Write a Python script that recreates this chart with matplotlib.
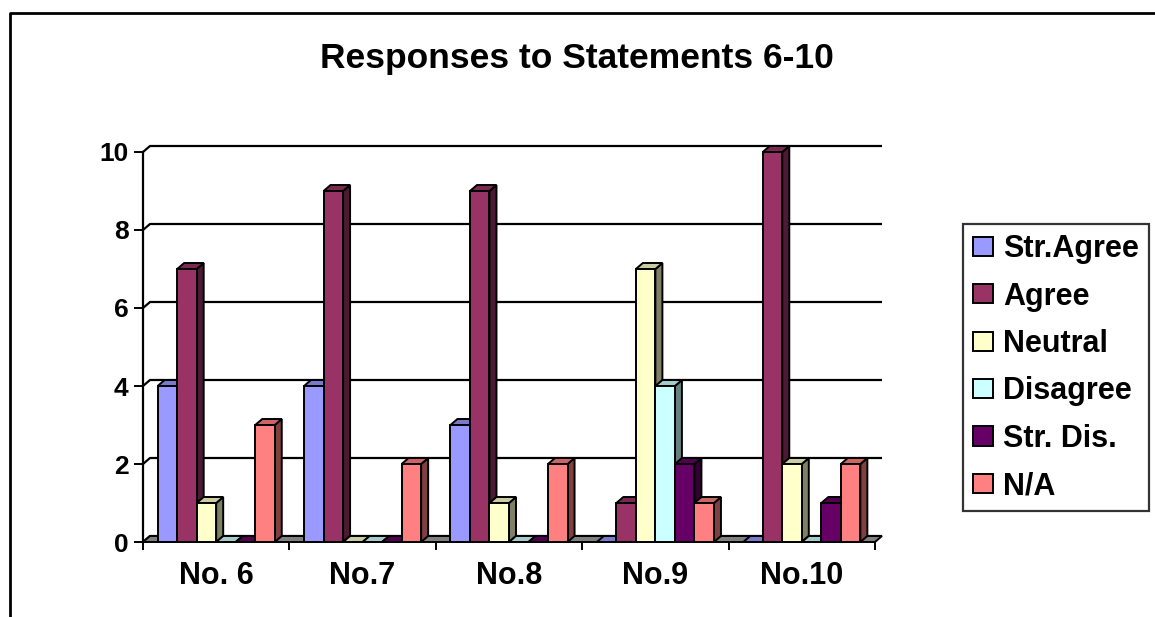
"""
Responses to statements 6-10, drawn as an Excel-style 3D clustered column chart.
"""
import matplotlib
matplotlib.use("Agg")
import matplotlib.pyplot as plt
from matplotlib.patches import Polygon, Patch
from matplotlib.lines import Line2D
import numpy as np

plt.rcParams["font.family"] = ["Liberation Sans", "DejaVu Sans"]
plt.rcParams["font.weight"] = "bold"

statements = ["No. 6", "No.7", "No.8", "No.9", "No.10"]
series = ["Str.Agree", "Agree", "Neutral", "Disagree", "Str. Dis.", "N/A"]
str_agree = [4, 4, 3, 0, 0]
agree = [7, 9, 9, 1, 10]
neutral = [1, 0, 1, 7, 2]
disagree = [0, 0, 0, 4, 0]
str_dis = [0, 0, 0, 2, 1]
n_a = [3, 2, 2, 1, 2]
colors = ["#9999FF", "#993366", "#FFFFCC", "#CCFFFF", "#660066", "#FF8080"]
yticks = [0, 2, 4, 6, 8, 10]

values = [str_agree, agree, neutral, disagree, str_dis, n_a]

W, H = 1155, 617
fig = plt.figure(figsize=(W / 100, H / 100), dpi=100)

# plot area in pixels: front plane x 143..875, y(0)=542, y(10)=152
x0, x1, yb, yt = 143, 875, 542, 152
ax = fig.add_axes([x0 / W, (H - yb) / H, (x1 - x0) / W, (yb - yt) / H])
ax.set_xlim(-0.5, 4.5)
ax.set_ylim(0, 10)

ppx = (x1 - x0) / 5.0
ppy = (yb - yt) / 10.0
dx, dy = 7 / ppx, 6 / ppy   # depth offset in data units


def shade(c, f):
    r, g, b = matplotlib.colors.to_rgb(c)
    return (r * f, g * f, b * f)


# back-wall gridlines and side-wall diagonals
for t in yticks:
    ax.plot([-0.5, -0.5 + dx, 4.5 + dx], [t, t + dy, t + dy], color="black",
            lw=1.6, clip_on=False, zorder=1, solid_capstyle="butt")

# floor
floor = Polygon([(-0.5, 0), (4.5, 0), (4.5 + dx, dy), (-0.5 + dx, dy)],
                closed=True, facecolor="#808080", edgecolor="black", lw=1.4,
                clip_on=False, zorder=2)
ax.add_patch(floor)

n = len(series)
bw = 0.8 / n
x = np.arange(len(statements))
z = 3
for gi in range(len(statements)):
    for si in range(n):
        v = values[si][gi]
        left = gi - 0.4 + si * bw
        c = colors[si]
        side = Polygon([(left + bw, 0), (left + bw + dx, dy), (left + bw + dx, v + dy), (left + bw, v)],
                       closed=True, facecolor=shade(c, 0.5), edgecolor="black", lw=1.4,
                       clip_on=False, zorder=z)
        top = Polygon([(left, v), (left + bw, v), (left + bw + dx, v + dy), (left + dx, v + dy)],
                      closed=True, facecolor=shade(c, 0.8), edgecolor="black", lw=1.4,
                      clip_on=False, zorder=z)
        ax.add_patch(side)
        ax.add_patch(top)
        ax.bar(left, v, width=bw, align="edge", color=c, edgecolor="black",
               linewidth=1.4, zorder=z + 0.5, clip_on=False)
        z += 1

for s in ["top", "right", "bottom"]:
    ax.spines[s].set_visible(False)
ax.spines["left"].set_linewidth(1.6)
ax.spines["left"].set_zorder(1)

ax.set_yticks(yticks)
ax.tick_params(axis="y", length=6.5, width=1.4, pad=4, labelsize=19)
ax.set_xticks(x)
ax.set_xticklabels(statements, fontsize=22, fontweight="bold")
ax.set_xticks(np.arange(-0.5, 5, 1), minor=True)
ax.tick_params(axis="x", which="major", length=0, pad=14)
ax.tick_params(axis="x", which="minor", length=6, width=1.4)
for lab in ax.get_yticklabels():
    lab.set_fontweight("bold")
ax.patch.set_visible(False)

fig.text(577 / W, 1 - 68 / H, "Responses to Statements 6-10", ha="center", va="baseline",
         fontsize=25.5, fontweight="bold")

handles = [Patch(facecolor=c, edgecolor="black", linewidth=1.4) for c in colors]
leg = fig.legend(handles, series, loc="upper left",
                 bbox_to_anchor=(963 / W, 1 - 224 / H), fontsize=22,
                 frameon=True, fancybox=False, edgecolor="black",
                 handlelength=0.65, handleheight=0.59, handletextpad=0.33,
                 labelspacing=0.57, borderpad=0.33, borderaxespad=0)
leg.get_frame().set_linewidth(1.6)
for t in leg.get_texts():
    t.set_fontweight("bold")

# outer chart border
fig.add_artist(Line2D([10 / W, 10 / W, 1.0], [0.0, 1 - 13 / H, 1 - 13 / H],
                      color="black", lw=2, transform=fig.transFigure))

fig.savefig("out.png", dpi=100)
